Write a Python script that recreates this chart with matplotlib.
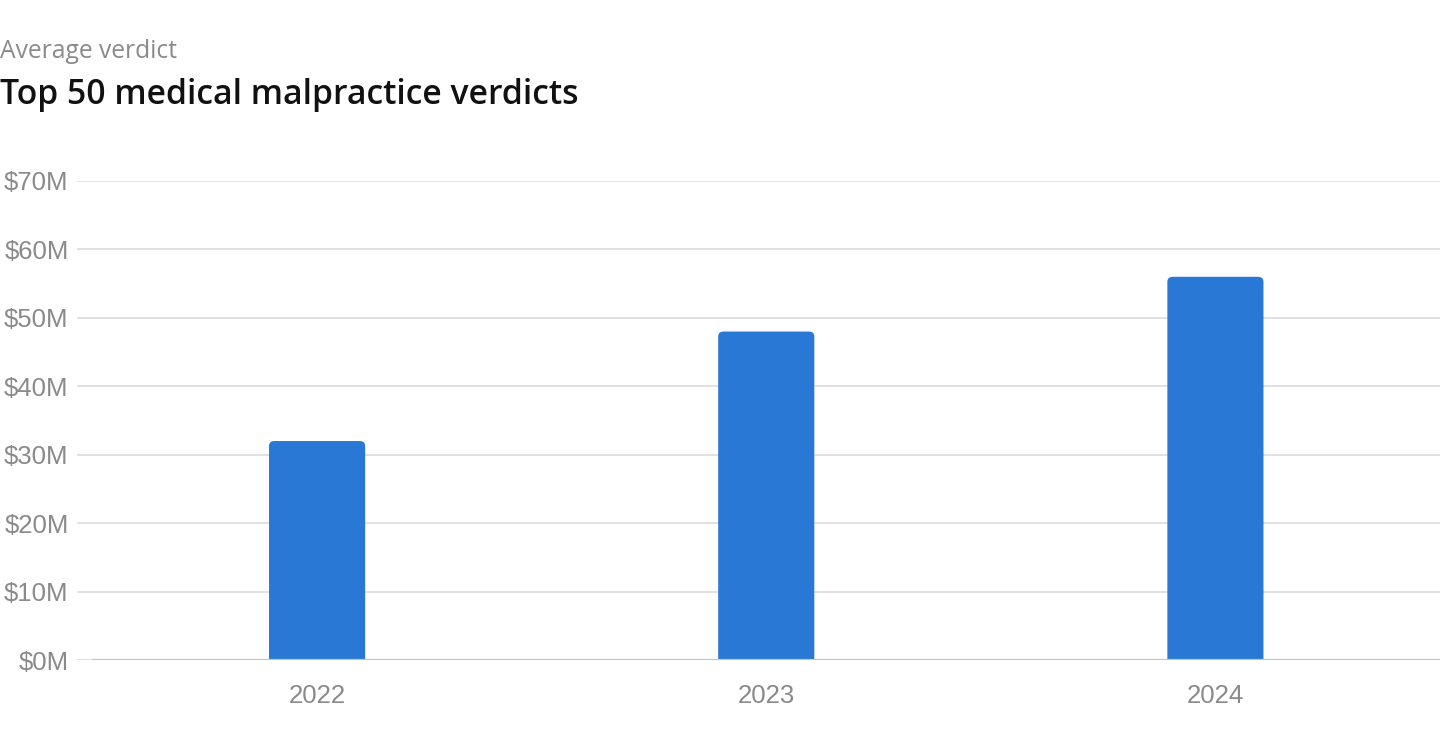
import matplotlib.pyplot as plt
from matplotlib.patches import FancyBboxPatch

# data
years = ['2022', '2023', '2024']
avg_verdict = [32, 48, 56]  # $M
yticks = [0, 10, 20, 30, 40, 50, 60, 70]

bar_color = '#2a78d6'
grid_color = '#dedede'
text_gray = '#8a8a8a'

fig = plt.figure(figsize=(14.4, 7.52), dpi=100)
ax = fig.add_axes([77 / 1440, 92 / 752, 1 - 77 / 1440, 479 / 752])

x = list(range(len(years)))
bars = ax.bar(x, avg_verdict, width=0.214, color=bar_color, zorder=3)

# swap plain bars for ones with rounded top corners
# (start below zero so the bottom corners get clipped away)
for b in bars:
    b.set_visible(False)
    rb = FancyBboxPatch((b.get_x(), b.get_y() - 2), b.get_width(), b.get_height() + 2,
                        boxstyle='round,pad=0,rounding_size=0.012',
                        mutation_aspect=60, facecolor=bar_color,
                        edgecolor='none', zorder=3)
    ax.add_patch(rb)

ax.set_xlim(-0.5345, 2.5)
ax.set_ylim(0, 70)
ax.set_yticks(yticks)
ax.set_yticklabels(['$%dM' % v for v in yticks])
ax.set_xticks(x)
ax.set_xticklabels(years)

ax.grid(axis='y', color=grid_color, linewidth=1.3, zorder=0)
ax.hlines(0, -0.5, 2.5, color='#c4c4c4', linewidth=1.6, zorder=4)

for s in ax.spines.values():
    s.set_visible(False)
ax.tick_params(axis='both', length=0, labelcolor=text_gray, labelsize=18.5)
ax.tick_params(axis='y', pad=6)
ax.tick_params(axis='x', pad=17)
for lbl in ax.get_xticklabels() + ax.get_yticklabels():
    lbl.set_family('Liberation Sans')

fig.text(0, 1 - 52 / 752, 'Average verdict', fontsize=17.7, color=text_gray,
         family='Open Sans', va='center', ha='left')
fig.text(0, 1 - 95 / 752, 'Top 50 medical malpractice verdicts', fontsize=24.3,
         color='#111111', family='Open Sans', weight='semibold',
         va='center', ha='left')

fig.savefig('out.png', dpi=100)
